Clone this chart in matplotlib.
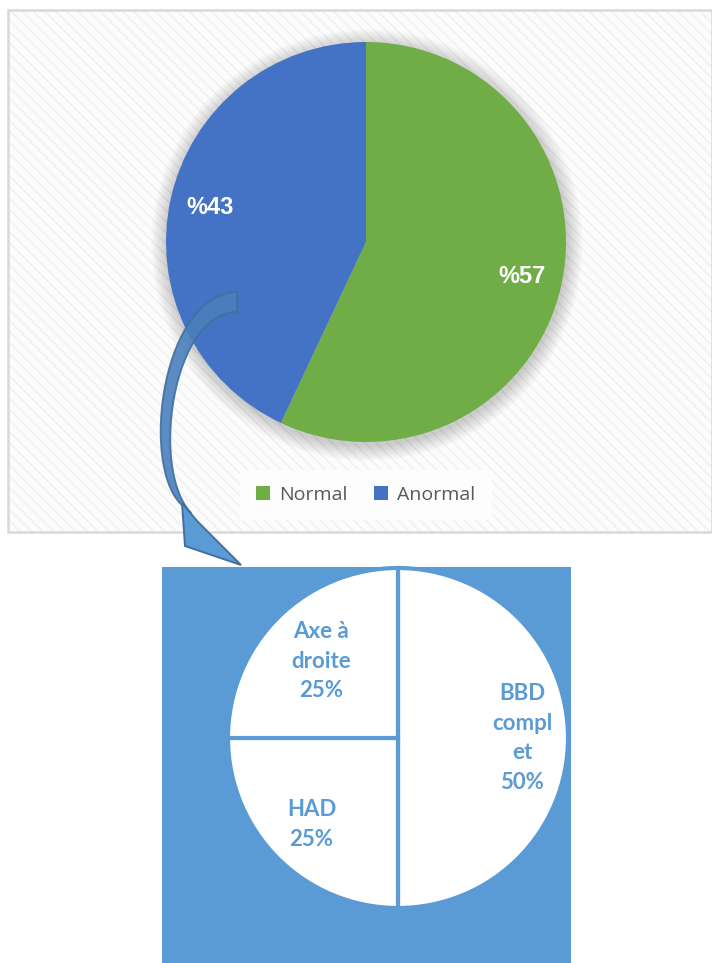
import matplotlib
matplotlib.use('Agg')
import math
import matplotlib.pyplot as plt
from matplotlib.patches import Rectangle, Circle, Polygon

# ---------------- data ----------------
top_labels = ['Normal', 'Anormal']
top_values = [57, 43]
top_colors = ['#70AD47', '#4472C4']

detail_labels = ['BBD\ncompl\net', 'HAD', 'Axe à\ndroite']
detail_values = [50, 25, 25]

# ---------------- figure ----------------
W, H = 712, 963
fig = plt.figure(figsize=(W / 100, H / 100), dpi=100)
ax = fig.add_axes([0, 0, 1, 1])
plt.rcParams['hatch.linewidth'] = 1.2


def Y(y):
    return H - y


# top framed area with faint diagonal stripes
ax.add_patch(Rectangle((8, Y(532)), 712 - 8, 532 - 10, facecolor='#FCFCFC',
                       edgecolor='#F1F1F1', hatch='\\\\\\', lw=0, zorder=0))
ax.add_patch(Rectangle((8, Y(532)), 712 - 8, 532 - 10, fill=False,
                       edgecolor='#D9D9D9', lw=1.8, zorder=1))

# soft shadow of the top pie
cx, cy, R = 366, Y(242), 200
for k in range(1, 17):
    ax.add_patch(Circle((cx + 1, cy - 3), R + k, facecolor='black',
                        edgecolor='none', alpha=0.013, zorder=1))

wedges, _, autotexts = ax.pie(
    top_values, colors=top_colors, startangle=90, counterclock=False,
    center=(cx, cy), radius=R, wedgeprops=dict(linewidth=0, zorder=2),
    autopct=lambda p: f'%{p:.0f}', pctdistance=0.8,
    textprops=dict(color='white', fontweight='bold', fontsize=17,
                   family='Liberation Sans'))
for t in autotexts:
    t.set_zorder(3)

leg = ax.legend(wedges, top_labels, loc='center', ncol=2,
                bbox_to_anchor=(365.5 / W, 1 - 494.5 / H),
                bbox_transform=fig.transFigure, frameon=True, fancybox=False,
                framealpha=1, facecolor='#FDFDFD', edgecolor='#FDFDFD',
                handlelength=0.72, handleheight=0.72, handletextpad=0.45,
                columnspacing=1.4, borderpad=0.8,
                prop=dict(family='Open Sans', size=14))
for t in leg.get_texts():
    t.set_color('#595959')

# bottom detail panel
ax.add_patch(Rectangle((162, 0), 571 - 162, Y(567), facecolor='#5B9BD5',
                       edgecolor='none', zorder=1))
dcx, dcy, dR = 398, Y(738), 170
dw, dtexts = ax.pie(detail_values,
                    labels=[f'{l}\n{v}%' for l, v in zip(detail_labels, detail_values)],
                    colors=['white'] * 3, startangle=90, counterclock=False,
                    center=(dcx, dcy), radius=dR, labeldistance=0.7,
                    wedgeprops=dict(edgecolor='#5B9BD5', linewidth=3, zorder=2),
                    textprops=dict(color='#5B9BD5', fontweight='bold', fontsize=16,
                                   family='Lato', ha='center', va='center',
                                   linespacing=1.5, zorder=3))
# fine-tune radial label distance per slice
label_r = [0.73, 0.72, 0.64]
for w, t, r in zip(dw, dtexts, label_r):
    a = math.radians((w.theta1 + w.theta2) / 2)
    t.set_position((dcx + r * dR * math.cos(a), dcy + r * dR * math.sin(a)))


# curved block arrow
def bez(p0, p1, p2, p3, n=50):
    pts = []
    for i in range(n + 1):
        t = i / n
        a = (1 - t) ** 3; b = 3 * (1 - t) ** 2 * t; c = 3 * (1 - t) * t ** 2; d = t ** 3
        pts.append((a * p0[0] + b * p1[0] + c * p2[0] + d * p3[0],
                    a * p0[1] + b * p1[1] + c * p2[1] + d * p3[1]))
    return pts


outer = bez((237, 292), (160, 295), (140, 470), (183, 506))
inner = bez((237, 312), (172, 312), (150, 470), (191, 513))
shaft = [(x, Y(y)) for x, y in outer] + [(x, Y(y)) for x, y in inner[::-1]]
ax.add_patch(Polygon(shaft, closed=True, facecolor='#4A80BD', alpha=0.9,
                     edgecolor='#41719C', lw=1.4, zorder=5))
head = [(182, 503), (185, 546), (241, 565), (197, 521)]
ax.add_patch(Polygon([(x, Y(y)) for x, y in head], closed=True,
                     facecolor='#5B9BD5', edgecolor='#41719C', lw=1.4, zorder=5))

ax.set_xlim(0, W)
ax.set_ylim(0, H)
ax.set_aspect('auto')
ax.axis('off')
fig.savefig('out.png', dpi=100)
